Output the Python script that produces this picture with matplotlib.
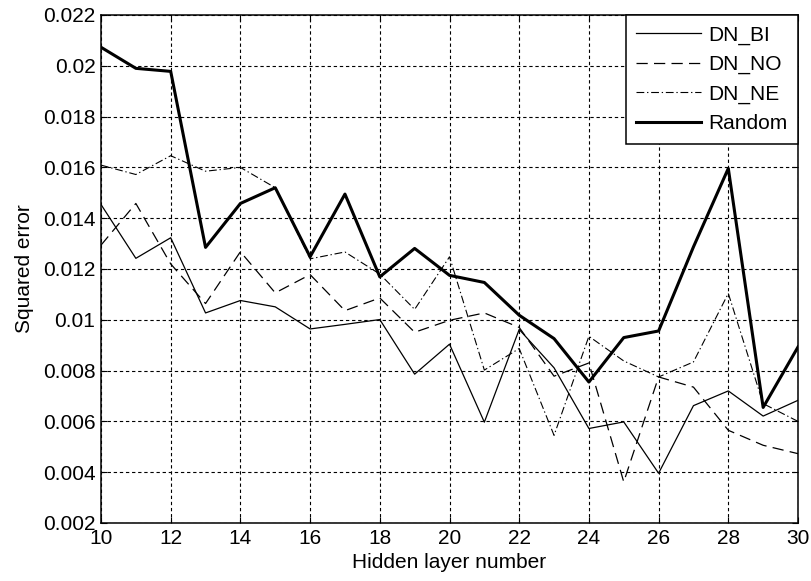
import matplotlib
matplotlib.use('Agg')
import matplotlib.pyplot as plt
import numpy as np

plt.rcParams['font.family'] = ['Liberation Sans', 'DejaVu Sans']

# data
hidden = list(range(10, 31))
dn_bi = [0.01454, 0.01242, 0.01323, 0.01027, 0.01076, 0.01051, 0.00964, 0.00982, 0.01001,
         0.00786, 0.00904, 0.00597, 0.00962, 0.00811, 0.00572, 0.00598, 0.00396, 0.00662,
         0.00720, 0.00621, 0.00683]
dn_no = [0.01294, 0.01458, 0.01220, 0.01064, 0.01268, 0.01106, 0.01178, 0.01036, 0.01086,
         0.00951, 0.00998, 0.01027, 0.00970, 0.00778, 0.00830, 0.00362, 0.00775, 0.00735,
         0.00565, 0.00506, 0.00473]
dn_ne = [0.01609, 0.01572, 0.01646, 0.01585, 0.01600, 0.01520, 0.01240, 0.01267, 0.01180,
         0.01041, 0.01248, 0.00802, 0.00887, 0.00545, 0.00935, 0.00838, 0.00775, 0.00834,
         0.01104, 0.00670, 0.00600]
rand = [0.02073, 0.01990, 0.01978, 0.01285, 0.01458, 0.01520, 0.01248, 0.01495, 0.01169,
        0.01281, 0.01175, 0.01147, 0.01018, 0.00926, 0.00755, 0.00930, 0.00956, 0.01287,
        0.01596, 0.00655, 0.00893]

xticks = list(range(10, 31, 2))
yticks = [0.002, 0.004, 0.006, 0.008, 0.01, 0.012, 0.014, 0.016, 0.018, 0.02, 0.022]
ytick_labels = ['0.002', '0.004', '0.006', '0.008', '0.01', '0.012', '0.014', '0.016',
                '0.018', '0.02', '0.022']

fs = 15

fig = plt.figure(figsize=(8.11, 5.81), dpi=100)
ax = fig.add_axes([101/811, 1 - 523/581, (798 - 101)/811, (523 - 15)/581])

ax.plot(hidden, dn_bi, color='k', lw=0.9, label='DN_BI')
ax.plot(hidden, dn_no, color='k', lw=0.9, dashes=(9, 5), label='DN_NO')
ax.plot(hidden, dn_ne, color='k', lw=0.8, dashes=(7, 2.5, 1.2, 2.5), label='DN_NE')
ax.plot(hidden, rand, color='k', lw=2.2, label='Random')

ax.set_xlim(10, 30)
ax.set_ylim(0.002, 0.022)
ax.set_xticks(xticks)
ax.set_yticks(yticks)
ax.set_yticklabels(ytick_labels)
ax.tick_params(direction='in', labelsize=fs, length=4, top=True, right=True, pad=4)
ax.grid(True, color='k', lw=0.8, linestyle=(0, (3, 2.5)))
for s in ax.spines.values():
    s.set_linewidth(1.1)

ax.set_xlabel('Hidden layer number', fontsize=fs, labelpad=4)
ax.set_ylabel('Squared error', fontsize=fs, labelpad=6)

leg = ax.legend(loc='upper right', borderaxespad=0, fontsize=fs, handlelength=3.1,
                labelspacing=0.5, fancybox=False, framealpha=1, edgecolor='k',
                borderpad=0.5, handletextpad=0.35)
leg.get_frame().set_linewidth(1.1)

fig.savefig('out.png', dpi=100)
